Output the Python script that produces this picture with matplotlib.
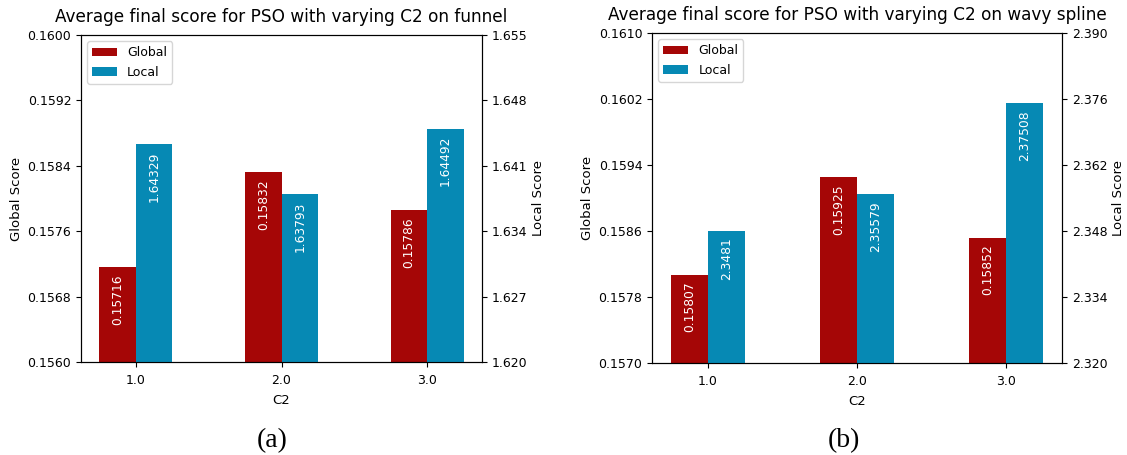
import matplotlib
matplotlib.use("Agg")
import matplotlib.pyplot as plt
import numpy as np

# C2 settings and the average final scores for each problem
c2_values = [1.0, 2.0, 3.0]
c2_labels = ["1.0", "2.0", "3.0"]

funnel_global = [0.15716, 0.15832, 0.15786]
funnel_local = [1.64329, 1.63793, 1.64492]
funnel_global_ticks = [0.1560, 0.1568, 0.1576, 0.1584, 0.1592, 0.1600]
funnel_local_ticks = [1.620, 1.627, 1.634, 1.641, 1.648, 1.655]

wavy_global = [0.15807, 0.15925, 0.15852]
wavy_local = [2.3481, 2.35579, 2.37508]
wavy_global_ticks = [0.1570, 0.1578, 0.1586, 0.1594, 0.1602, 0.1610]
wavy_local_ticks = [2.320, 2.334, 2.348, 2.362, 2.376, 2.390]

panel_titles = [
    "Average final score for PSO with varying C2 on funnel",
    "Average final score for PSO with varying C2 on wavy spline",
]
captions = ["(a)", "(b)"]

RED = "#a50606"
BLUE = "#0689b4"
W = 0.25

fig = plt.figure(figsize=(11.27, 4.55), dpi=100)
rects = [
    [81 / 1127, 93 / 455, 401 / 1127, 327 / 455],
    [652 / 1127, 92 / 455, 410 / 1127, 330 / 455],
]
caption_x = [272 / 1127, 844 / 1127]

panels = [
    (funnel_global, funnel_local, funnel_global_ticks, funnel_local_ticks),
    (wavy_global, wavy_local, wavy_global_ticks, wavy_local_ticks),
]


def fmt_local(v):
    return f"{v:.5f}".rstrip("0")


for i, (g, l, gt, lt) in enumerate(panels):
    ax = fig.add_axes(rects[i])
    ax2 = ax.twinx()
    x = np.array(c2_values)
    bg = ax.bar(x - W / 2, g, W, color=RED, label="Global")
    bl = ax2.bar(x + W / 2, l, W, color=BLUE, label="Local")

    ax.set_ylim(gt[0], gt[-1])
    ax.set_yticks(gt)
    ax.set_yticklabels([f"{t:.4f}" for t in gt])
    ax2.set_ylim(lt[0], lt[-1])
    ax2.set_yticks(lt)
    ax2.set_yticklabels([f"{t:.3f}" for t in lt])
    ax.set_xticks(x)
    ax.set_xticklabels(c2_labels)

    ax.tick_params(labelsize=9)
    ax.tick_params(axis="x", pad=5)
    ax2.tick_params(labelsize=9)
    ax.set_xlabel("C2", fontsize=9.5, labelpad=5)
    ax.set_ylabel("Global Score", fontsize=9.5, labelpad=3)
    ax2.set_ylabel("Local Score", fontsize=9.5, labelpad=3)
    ax.set_title(panel_titles[i], fontsize=12.2, pad=9.4)

    for xi, v in zip(x - W / 2, g):
        ax.annotate(f"{v:.5f}", xy=(xi, v), xytext=(0, -5),
                    textcoords="offset points", ha="center", va="top",
                    rotation=90, color="white", fontsize=8.8)
    for xi, v in zip(x + W / 2, l):
        ax2.annotate(fmt_local(v), xy=(xi, v), xytext=(0, -5),
                     textcoords="offset points", ha="center", va="top",
                     rotation=90, color="white", fontsize=8.8)

    ax.legend([bg, bl], ["Global", "Local"], loc="upper left", fontsize=9)

    fig.text(caption_x[i], 14 / 455, captions[i], ha="center", va="center",
             fontsize=20, family="Liberation Serif")

fig.savefig("out.png", dpi=100)
